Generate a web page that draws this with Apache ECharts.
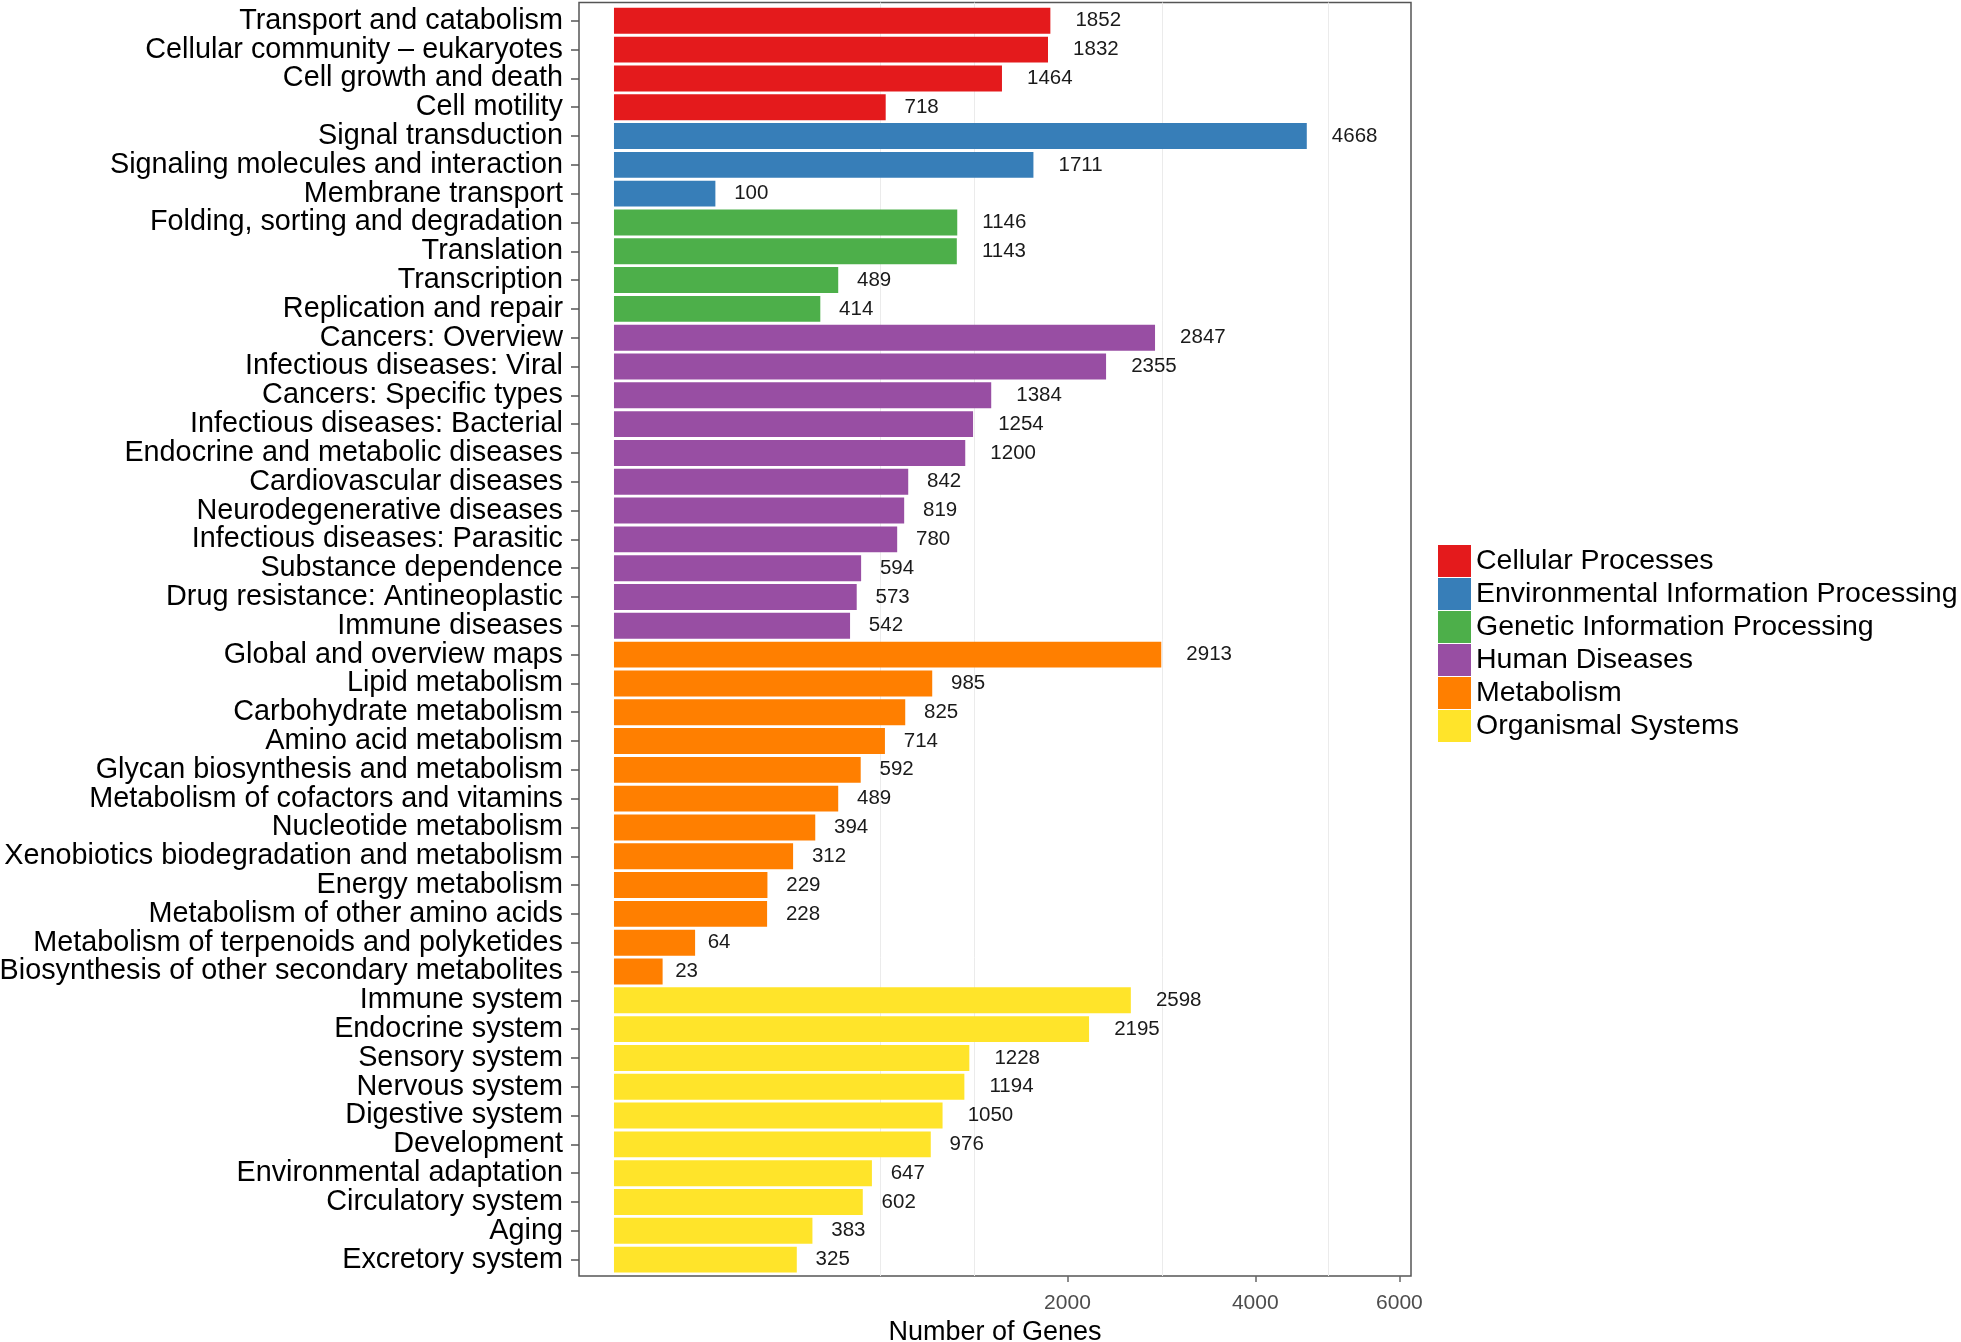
<!DOCTYPE html>
<html><head><meta charset="utf-8">
<script src="https://cdn.jsdelivr.net/npm/echarts@6/dist/echarts.min.js"></script>
<style>html,body{margin:0;padding:0;background:#fff}#c{width:1961px;height:1342px}</style>
</head><body><div id="c"></div>
<script>
const groups = ['Cellular Processes','Environmental Information Processing','Genetic Information Processing','Human Diseases','Metabolism','Organismal Systems'];
const groupColors = ['#E41A1C','#377EB8','#4DAF4A','#984EA3','#FF7F00','#FFE42A'];
const categories = [
  'Transport and catabolism','Cellular community \u2013 eukaryotes','Cell growth and death','Cell motility',
  'Signal transduction','Signaling molecules and interaction','Membrane transport',
  'Folding, sorting and degradation','Translation','Transcription','Replication and repair',
  'Cancers: Overview','Infectious diseases: Viral','Cancers: Specific types','Infectious diseases: Bacterial','Endocrine and metabolic diseases','Cardiovascular diseases','Neurodegenerative diseases','Infectious diseases: Parasitic','Substance dependence','Drug resistance: Antineoplastic','Immune diseases',
  'Global and overview maps','Lipid metabolism','Carbohydrate metabolism','Amino acid metabolism','Glycan biosynthesis and metabolism','Metabolism of cofactors and vitamins','Nucleotide metabolism','Xenobiotics biodegradation and metabolism','Energy metabolism','Metabolism of other amino acids','Metabolism of terpenoids and polyketides','Biosynthesis of other secondary metabolites',
  'Immune system','Endocrine system','Sensory system','Nervous system','Digestive system','Development','Environmental adaptation','Circulatory system','Aging','Excretory system'
];
const values = [
  1852,1832,1464,718,
  4668,1711,100,
  1146,1143,489,414,
  2847,2355,1384,1254,1200,842,819,780,594,573,542,
  2913,985,825,714,592,489,394,312,229,228,64,23,
  2598,2195,1228,1194,1050,976,647,602,383,325
];
const groupOf = [
  0,0,0,0,
  1,1,1,
  2,2,2,2,
  3,3,3,3,3,3,3,3,3,3,3,
  4,4,4,4,4,4,4,4,4,4,4,4,
  5,5,5,5,5,5,5,5,5,5
];
const xTicks = [2000, 4000, 6000];
const gridValues = [690, 1260, 2920, 4960];

const FONT = "'Liberation Sans', Arial, Helvetica, sans-serif";
const sq = v => Math.sqrt(v);
const XMIN = -3.45, XMAX = 78.6;
const LABEL_FS = 20.5;

const barSeries = groups.map((g, gi) => ({
  name: g,
  type: 'bar',
  xAxisIndex: 1, yAxisIndex: 1,
  barWidth: '90%',
  barGap: '-100%',
  z: 2,
  itemStyle: { color: groupColors[gi] },
  label: {
    show: true, position: 'right',
    fontFamily: FONT, fontSize: LABEL_FS, color: '#1a1a1a',
    padding: [2, 0, 0, 0],
    formatter: p => String(values[p.dataIndex])
  },
  data: categories.map((c, i) => groupOf[i] === gi
    ? { value: sq(values[i]), label: { distance: 0.55 * String(values[i]).length * 0.556 * LABEL_FS } }
    : '-')
}));

const option = {
  animation: false,
  backgroundColor: '#ffffff',
  textStyle: { fontFamily: FONT },
  grid: [
    { left: 579, top: 2.5, width: 832, height: 1273.5, show: true, borderColor: '#555555', borderWidth: 1.5, backgroundColor: 'transparent', containLabel: false, outerBoundsMode: 'none' },
    { left: 579, top: 6.4, width: 832, height: 1267.6, containLabel: false, outerBoundsMode: 'none' }
  ],
  legend: {
    data: groups, orient: 'vertical', left: 1438, top: 545, padding: 0,
    itemWidth: 33, itemHeight: 32, itemGap: 1, icon: 'rect',
    textStyle: { fontFamily: FONT, fontSize: 28.5, color: '#000' }
  },
  xAxis: [
    {
      gridIndex: 0, type: 'value', min: XMIN, max: XMAX,
      axisLine: { show: false, onZero: false },
      axisTick: { show: true, customValues: xTicks.map(sq), length: 6, lineStyle: { color: '#666', width: 1.5 } },
      axisLabel: { customValues: xTicks.map(sq), formatter: v => String(Math.round(v * v)), color: '#4d4d4d', fontSize: 21, margin: 17, fontFamily: FONT },
      splitLine: { show: false },
      name: 'Number of Genes', nameLocation: 'middle', nameGap: 40,
      nameTextStyle: { fontSize: 27, color: '#000', fontFamily: FONT }
    },
    { gridIndex: 1, type: 'value', min: XMIN, max: XMAX, show: false }
  ],
  yAxis: [
    { gridIndex: 0, type: 'value', min: 0, max: 1, show: false },
    {
      gridIndex: 1, type: 'category', data: categories, inverse: true,
      axisLine: { show: false, onZero: false },
      axisTick: { show: true, alignWithLabel: true, length: 8, lineStyle: { color: '#555', width: 1.5 } },
      axisLabel: { fontSize: 28.8, color: '#000', margin: 16, fontFamily: FONT, interval: 0, padding: [3, 0, 0, 0] },
      splitLine: { show: false }
    }
  ],
  series: [
    {
      name: 'grid', type: 'line', xAxisIndex: 0, yAxisIndex: 0, data: [], z: 0,
      markLine: {
        z: 0,
        silent: true, symbol: ['none', 'none'], animation: false,
        label: { show: false },
        lineStyle: { color: '#ebebeb', width: 1, type: 'solid' },
        data: gridValues.map(v => ({ xAxis: sq(v) }))
      }
    }
  ].concat(barSeries)
};
const chart = echarts.init(document.getElementById('c'), null, { renderer: 'canvas' });
chart.setOption(option);
</script></body></html>
